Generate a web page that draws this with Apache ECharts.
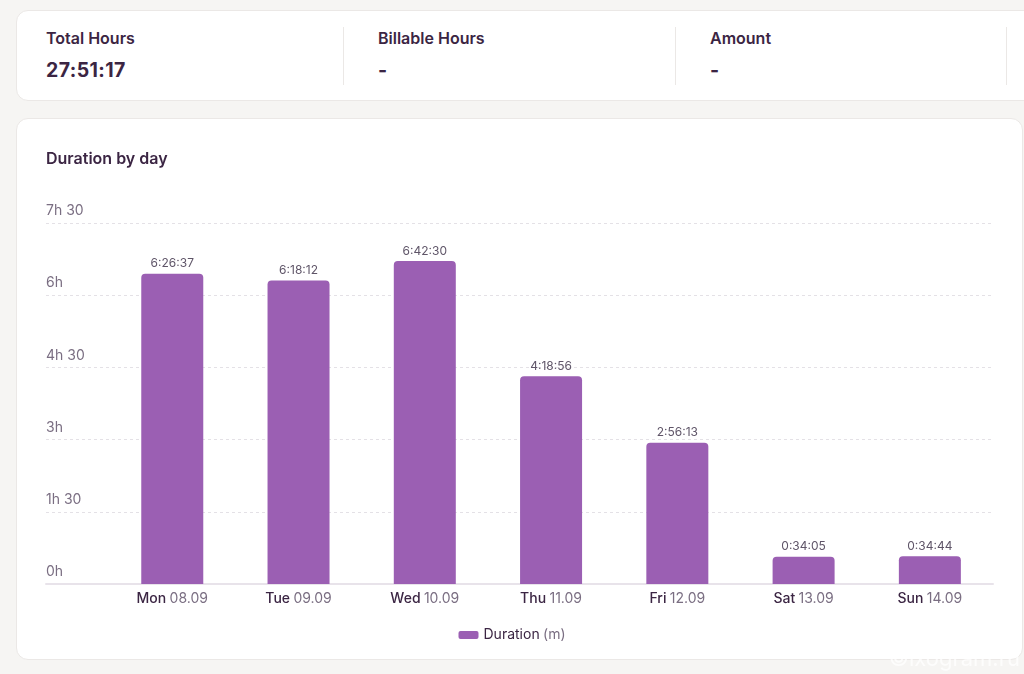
<!DOCTYPE html>
<html>
<head>
<meta charset="utf-8">
<script src="https://cdn.jsdelivr.net/npm/echarts@6/dist/echarts.min.js"></script>
<style>
  html, body { margin: 0; padding: 0; width: 1024px; height: 674px; background: #f6f5f3; overflow: hidden; font-family: Inter, "Noto Sans", sans-serif; }
  .card { position: absolute; background: #fff; border: 1px solid #ebe8e6; border-radius: 12px; box-sizing: border-box; }
  .stats { left: 16px; top: 10px; width: 1030px; height: 91px; }
  .stat { position: absolute; top: 16px; height: 58px; }
  .stat .lbl { font-size: 16px; font-weight: 600; color: #3b2543; line-height: 24px; margin-top: -1px; }
  .stat .val { font-size: 19.5px; font-weight: 700; color: #3b2543; line-height: 30px; margin-top: 5px; letter-spacing: 0.4px; }
  .div { position: absolute; top: 16px; width: 1px; height: 58px; background: #ebe8e6; }
  .chartcard { left: 16px; top: 118px; width: 1007px; height: 542px; }
  #chart { position: absolute; left: 0; top: 0; width: 1024px; height: 674px; }
</style>
</head>
<body>
<div class="card stats">
  <div class="stat" style="left:29px"><div class="lbl">Total Hours</div><div class="val">27:51:17</div></div>
  <div class="div" style="left:326px"></div>
  <div class="stat" style="left:361px"><div class="lbl">Billable Hours</div><div class="val">-</div></div>
  <div class="div" style="left:658px"></div>
  <div class="stat" style="left:693px"><div class="lbl">Amount</div><div class="val">-</div></div>
  <div class="div" style="left:989px"></div>
</div>
<div class="card chartcard"></div>
<div id="chart"></div>
<script>
// 数据
var days = ['Mon', 'Tue', 'Wed', 'Thu', 'Fri', 'Sat', 'Sun'];
var dates = ['08.09', '09.09', '10.09', '11.09', '12.09', '13.09', '14.09'];
var durations = ['6:26:37', '6:18:12', '6:42:30', '4:18:56', '2:56:13', '0:34:05', '0:34:44'];
var yTicks = ['0h', '1h 30', '3h', '4h 30', '6h', '7h 30'];

// 时长字符串 -> 分钟
function toMinutes(s) {
    var p = s.split(':');
    return (+p[0]) * 60 + (+p[1]) + (+p[2]) / 60;
}

var seriesData = [];
for (var i = 0; i < days.length; i++) {
    seriesData.push([i, toMinutes(durations[i])]);
}

var myChart = echarts.init(document.getElementById('chart'));
var myOption = {
    animation: false,
    textStyle: { fontFamily: 'Inter' },
    title: {
        text: 'Duration by day',
        left: 41,
        top: 146,
        textStyle: { fontSize: 16, fontWeight: 600, color: '#3b2543', fontFamily: 'Inter' }
    },
    legend: {
        bottom: 27,
        left: 'center',
        icon: 'roundRect',
        itemWidth: 20,
        itemHeight: 8,
        itemGap: 6,
        data: ['Duration'],
        formatter: function () {
            return '{a|Duration} {b|(m)}';
        },
        textStyle: {
            rich: {
                a: { fontSize: 14, color: '#3b2543', fontFamily: 'Inter' },
                b: { fontSize: 14, color: '#7a6e82', fontFamily: 'Inter' }
            }
        }
    },
    grid: { left: 46, right: 31, top: 223, bottom: 90 },
    xAxis: {
        type: 'value',
        min: -1,
        max: 6.5,
        interval: 1,
        splitLine: { show: false },
        axisTick: { show: false },
        axisLine: { show: true, lineStyle: { color: '#e8e3ea', width: 2 } },
        axisLabel: {
            margin: 8,
            showMaxLabel: false,
            formatter: function (v) {
                if (v < 0 || v > 6 || v % 1 !== 0) return '';
                return '{d|' + days[v] + '} {t|' + dates[v] + '}';
            },
            rich: {
                d: { fontSize: 14, fontWeight: 500, color: '#3b2543', fontFamily: 'Inter' },
                t: { fontSize: 14, color: '#7a6e82', fontFamily: 'Inter' }
            }
        }
    },
    yAxis: {
        type: 'value',
        min: 0,
        max: 450,
        interval: 90,
        axisLine: { show: false },
        axisTick: { show: false },
        splitLine: { lineStyle: { color: '#e4e1e6', type: [3, 3] } },
        axisLabel: {
            inside: true,
            margin: 0,
            align: 'left',
            verticalAlign: 'bottom',
            padding: [0, 0, 5, 0],
            fontSize: 14,
            color: '#7a6e82',
            fontFamily: 'Inter',
            formatter: function (v) {
                return yTicks[Math.round(v / 90)];
            }
        }
    },
    series: [{
        name: 'Duration',
        type: 'bar',
        barWidth: 62,
        data: seriesData,
        itemStyle: { color: '#9b5fb3', borderRadius: [4, 4, 0, 0] },
        label: {
            show: true,
            position: 'top',
            distance: 4,
            fontSize: 12,
            color: '#5f5568',
            fontFamily: 'Inter',
            formatter: function (p) {
                return durations[p.dataIndex];
            }
        }
    }],
    graphic: [{
        type: 'text',
        right: 4,
        bottom: 4,
        style: { text: '©ixogram.ru', fontSize: 22, fill: 'rgba(255,255,255,0.75)', fontFamily: 'Inter' }
    }]
};
myChart.setOption(myOption);
</script>
</body>
</html>
